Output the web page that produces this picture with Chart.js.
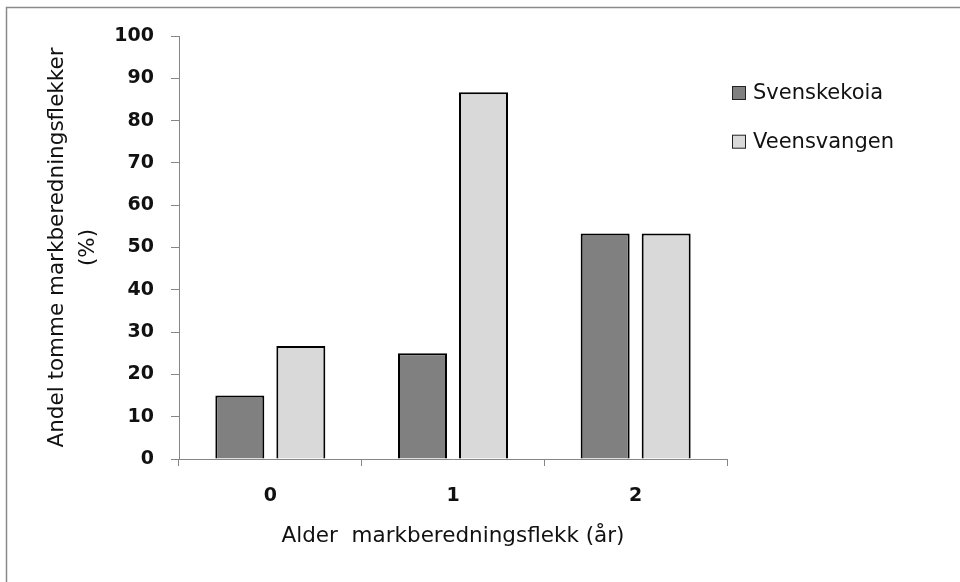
<!DOCTYPE html>
<html>
<head>
<meta charset="utf-8">
<title>Andel tomme markberedningsflekker</title>
<script src="https://cdn.jsdelivr.net/npm/chart.js@4/dist/chart.umd.min.js"></script>
<style>
  html, body { margin: 0; padding: 0; background: #ffffff; }
  #wrap { width: 960px; height: 582px; }
  canvas { display: block; }
</style>
</head>
<body>
<div id="wrap"><canvas id="chart" width="960" height="582"></canvas></div>
<script>
// Age of the scarification patch (years)
const categories = ['0', '1', '2'];
// Share of empty scarification patches (%) per site
const svenskekoia = [15, 25, 53.3];
const veensvangen = [26.7, 86.7, 53.3];
const seriesNames = ['Svenskekoia', 'Veensvangen'];
const yMin = 0, yMax = 100, yStep = 10;

const AXIS_GREY = '#868686';
const TEXT = '#111111';

// Outer frame around the whole chart
const framePlugin = {
  id: 'frame',
  beforeDraw(chart) {
    const ctx = chart.ctx;
    ctx.save();
    ctx.fillStyle = '#ffffff';
    ctx.fillRect(0, 0, chart.width, chart.height);
    ctx.strokeStyle = '#8a8a8a';
    ctx.lineWidth = 1.5;
    ctx.strokeRect(6.5, 7.5, chart.width + 20, chart.height + 20);
    ctx.restore();
  }
};

// Legend drawn to the right of the plot, square swatch + label
const sideLegend = {
  id: 'sideLegend',
  afterDraw(chart) {
    const ctx = chart.ctx;
    const area = chart.chartArea;
    ctx.save();
    ctx.font = '21px "DejaVu Sans"';
    ctx.textBaseline = 'middle';
    ctx.textAlign = 'left';
    chart.data.datasets.forEach((ds, i) => {
      const cy = 93 + i * 48.7;
      const bx = area.right + 5.5;
      ctx.fillStyle = ds.backgroundColor;
      ctx.fillRect(bx, cy - 6.5, 13, 13);
      ctx.strokeStyle = '#222222';
      ctx.lineWidth = 1;
      ctx.strokeRect(bx, cy - 6.5, 13, 13);
      ctx.fillStyle = TEXT;
      ctx.fillText(ds.label, area.right + 26, cy + 1);
    });
    ctx.restore();
  }
};

new Chart(document.getElementById('chart'), {
  type: 'bar',
  data: {
    labels: categories,
    datasets: [
      {
        label: seriesNames[0],
        data: svenskekoia,
        backgroundColor: '#808080',
        borderColor: '#000000',
        borderWidth: 2
      },
      {
        label: seriesNames[1],
        data: veensvangen,
        backgroundColor: '#d9d9d9',
        borderColor: '#000000',
        borderWidth: 2
      }
    ]
  },
  options: {
    responsive: false,
    animation: false,
    devicePixelRatio: 1,
    categoryPercentage: 0.668,
    barPercentage: 0.803,
    layout: { padding: { left: 0, top: 36, right: 233, bottom: 0 } },
    plugins: {
      legend: { display: false },
      tooltip: { enabled: false }
    },
    scales: {
      x: {
        offset: true,
        grid: {
          offset: true,
          drawOnChartArea: false,
          drawTicks: true,
          tickLength: 7,
          color: AXIS_GREY
        },
        border: { color: AXIS_GREY, width: 1 },
        ticks: {
          color: TEXT,
          padding: 19,
          font: { family: 'DejaVu Sans', size: 19, weight: 'bold' }
        },
        title: {
          display: true,
          text: 'Alder  markberedningsflekk (år)',
          color: TEXT,
          font: { family: 'DejaVu Sans', size: 21.5 },
          padding: { top: 0, bottom: 33 }
        },
        afterFit(scale) { scale.height = 123; }
      },
      y: {
        min: yMin,
        max: yMax,
        grid: {
          drawOnChartArea: false,
          drawTicks: true,
          tickLength: 8,
          color: AXIS_GREY
        },
        border: { color: AXIS_GREY, width: 1 },
        ticks: {
          stepSize: yStep,
          color: TEXT,
          padding: 17,
          font: { family: 'DejaVu Sans', size: 19, weight: 'bold' }
        },
        title: {
          display: true,
          text: ['Andel tomme markberedningsflekker', '(%)'],
          color: TEXT,
          font: { family: 'DejaVu Sans', size: 21.5, lineHeight: 1.45 },
          padding: { top: 42, bottom: 0 }
        },
        afterFit(scale) { scale.width = 179; }
      }
    }
  },
  plugins: [framePlugin, sideLegend]
});
</script>
</body>
</html>
